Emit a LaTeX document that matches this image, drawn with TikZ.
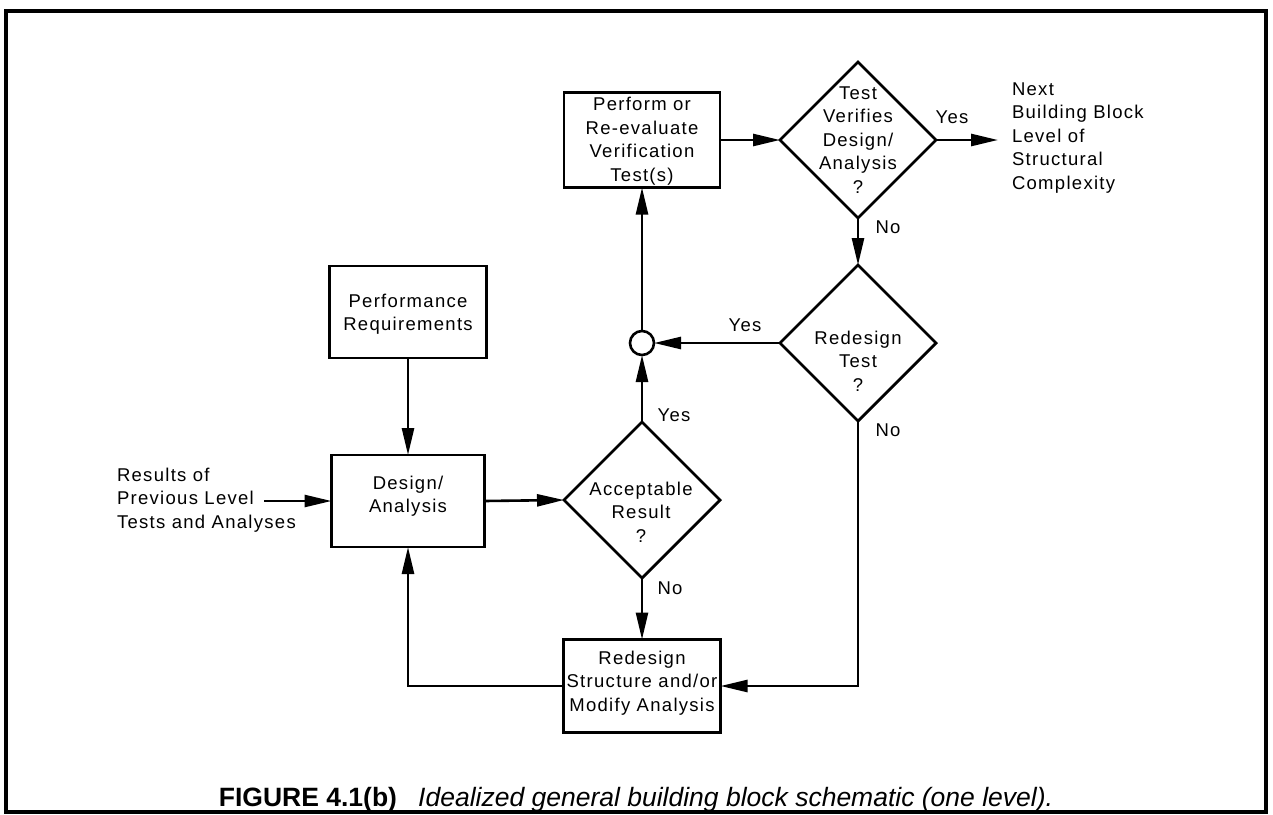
\documentclass[tikz,border=0pt]{standalone}
\usepackage{fontspec}
\setmainfont{Liberation Sans}
\newfontfamily\lab[LetterSpace=7]{Liberation Sans}
\usetikzlibrary{arrows.meta,shapes.geometric}

\begin{document}
\begin{tikzpicture}[x=1pt,y=-1pt,
  every node/.style={inner sep=0pt,outer sep=0pt},
  lbl/.style={font=\lab\fontsize{18.5}{23.5}\selectfont,align=center},
  stepbox/.style={draw,line width=2.8pt,rectangle},
  dia/.style={draw,line width=2.8pt,diamond,minimum width=156pt,minimum height=156pt},
  joint/.style={draw,line width=2.6pt,circle,minimum size=24pt},
  arr/.style={-{Triangle[length=27pt,width=12pt]},line width=2.6pt}]

\useasboundingbox (0,0) rectangle (1273,814);
\draw[line width=3.5pt] (6,11) rectangle (1266,812);

% process boxes
\node[stepbox,minimum width=156pt,minimum height=95pt] (perf) at (642,140) {};
\node[lbl] (perft) at (642,141) {Perform or\\Re-evaluate\\Verification\\Test(s)};

\node[stepbox,minimum width=157pt,minimum height=92pt] (preq) at (408,312) {};
\node[lbl] (preqt) at (408,314) {Performance\\Requirements};

\node[stepbox,minimum width=153pt,minimum height=92pt] (des) at (408,501) {};
\node[lbl] (dest) at (408,496) {Design/\\Analysis};

\node[stepbox,minimum width=157pt,minimum height=93pt] (red) at (642,686) {};
\node[lbl] (redt) at (642,683) {Redesign\\Structure and/or\\Modify Analysis};

% decisions
\node[dia] (tv) at (858,140) {};
\node[lbl] (tvt) at (858,140) {Test\\Verifies\\Design/\\Analysis\\?};

\node[dia] (rt) at (858,343) {};
\node[lbl] (rtt) at (858,361) {Redesign\\Test\\?};

\node[dia] (acc) at (642,500) {};
\node[lbl] (acct) at (641,512) {Acceptable\\Result\\?};

\node[joint] (j) at (642,343) {};

% texts outside the chart
\node[lbl,align=left,anchor=west] (res) at (117,500) {Results of\\Previous Level\\Tests and Analyses};
\node[lbl,align=left,anchor=west] (nxt) at (1012,138) {Next\\Building Block\\Level of\\Structural\\Complexity};
\coordinate (resend) at (264,501);
\coordinate (nxtend) at (998,140);

% connectors
\draw[arr] (resend) -- (des.west);
\draw[arr] (preq.south) -- (des.north);
\draw[arr] (des.east) -- (acc.west);
\draw[arr] (acc.north) -- (j.south);
\draw[arr] (j.north) -- (perf.south);
\draw[arr] (perf.east) -- (tv.west);
\draw[arr] (tv.east) -- (nxtend);
\draw[arr] (tv.south) -- (rt.north);
\draw[arr] (rt.west) -- (j.east);
\draw[arr] (acc.south) -- (red.north);
\draw[arr] (rt.south) |- (red.east);
\draw[arr] (red.west) -| (des.south);

% branch labels
\node[lbl] (y1) at (952,117) {Yes};
\node[lbl] (n1) at (888,227) {No};
\node[lbl] (y2) at (745,325) {Yes};
\node[lbl] (n2) at (888,430) {No};
\node[lbl] (y3) at (674,415) {Yes};
\node[lbl] (n3) at (670,588) {No};

% caption
\node[anchor=base,font=\fontsize{26.5}{30}\selectfont] (cap) at (636,806)
  {\textbf{FIGURE 4.1(b)}\hspace{0.8em}\textit{Idealized general building block schematic (one level).}};
\end{tikzpicture}
\end{document}
